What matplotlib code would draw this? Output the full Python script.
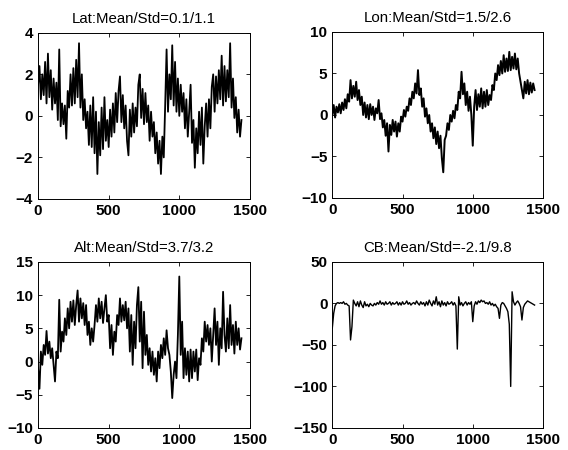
import numpy as np
import matplotlib.pyplot as plt

plt.rcParams['font.family'] = ['Liberation Sans', 'DejaVu Sans']

# samples, one value every 10 steps (0..1440)
step = 10

lat = [1.5, 2.4, 0.8, 2.0, 1.0, 2.6, 0.6, 3.0, 0.9, 2.2,
       0.3, 1.8, 0.6, 1.6, -0.2, 3.2, -0.5, 0.6, -0.4, 0.5,
       -1.1, 1.2, 0.4, 2.0, 0.5, 2.3, 0.6, 2.7, 0.9, 3.5,
       0.4, 2.0, -0.2, 0.8, -0.6, 0.2, -1.4, 0.5, -1.5, 0.9,
       -1.8, 0.2, -2.8, -0.3, -1.9, 0.4, -1.6, 0.9, -1.2, -0.2,
       -1.5, 0.3, -1.0, 0.6, -0.8, 1.1, -0.3, 1.2, 1.9, -0.3,
       1.0, -0.6, 0.5, -1.2, -1.9, 0.3, -1.0, 0.6, -0.8, 0.4,
       -0.5, 1.5, 2.0, -0.1, 1.3, -0.4, 1.1, -0.3, 0.5, -1.2,
       0.2, -1.0, -0.3, -1.8, -0.8, -2.3, -1.2, -2.8, -1.0, -2.0,
       0.5, 3.2, 0.2, 2.0, 0.8, 3.4, 0.5, 2.6, 0.2, 1.8,
       0.0, 1.5, 0.2, 1.1, -0.6, 0.8, -1.0, 0.2, 1.5, -1.3,
       -0.2, -2.5, -0.6, -1.8, 0.2, -1.4, 0.4, -2.3, -0.5, 0.6,
       -1.0, 0.8, -0.6, 1.4, 2.0, 0.2, 1.9, 0.6, 2.2, 0.8,
       2.9, 0.5, 2.4, 0.7, 2.2, 0.9, 3.5, 0.4, 1.8, -0.1,
       0.9, -0.8, 0.3, -1.0, -0.2]

lon = [0.0, 1.2, -0.3, 1.0, 0.3, 1.3, 0.2, 1.5, 0.6, 1.9,
       0.8, 2.5, 1.6, 4.2, 2.0, 3.5, 2.2, 4.0, 1.8, 3.0,
       1.2, 2.2, 0.0, 1.5, -0.3, 1.2, -0.5, 1.3, 0.0, 1.0,
       -0.6, 0.8, 0.2, 1.8, -0.5, 0.2, -1.5, -0.6, -2.5, -1.0,
       -4.4, -1.2, -2.4, -0.6, -2.0, -0.8, -2.6, -1.0, -2.0, -0.2,
       -0.8, 0.6, -0.2, 1.0, 0.5, 2.0, 1.2, 2.8, 2.0, 3.8,
       2.6, 5.4, 2.4, 3.2, 1.0, 2.0, -0.2, 0.8, -1.0, 0.0,
       -2.0, -1.0, -2.8, -1.5, -3.5, -2.0, -4.0, -2.5, -5.2, -6.9,
       -3.0, -2.5, -1.0, -1.8, 0.0, -0.8, 0.5, -0.4, 1.2, 0.6,
       2.8, 2.0, 5.2, 2.5, 3.8, 1.2, 2.8, 0.5, 2.2, 0.0,
       -3.7, 1.0, 3.0, 0.6, 2.5, 1.0, 3.2, 0.8, 2.8, 1.0,
       3.0, 1.2, 2.4, 1.8, 3.6, 3.0, 5.0, 4.2, 6.0, 4.8,
       6.5, 5.0, 7.2, 5.2, 6.8, 5.3, 7.6, 5.4, 7.0, 5.6,
       7.4, 5.5, 6.8, 5.0, 4.0, 3.0, 2.0, 4.0, 2.6, 4.2,
       2.5, 3.9, 2.7, 3.8, 3.0]

alt = [-1.0, -4.1, 1.5, -0.5, 2.5, 1.0, 4.6, 1.2, 3.0, 0.5,
       2.0, -0.5, -3.0, 1.5, 0.5, 9.3, 1.5, 4.5, 3.0, 6.5,
       4.0, 8.0, 5.0, 9.0, 6.0, 9.2, 5.5, 8.5, 10.7, 6.0,
       9.5, 6.5, 8.8, 5.5, 8.5, 4.0, 6.0, 2.5, 5.0, 3.0,
       5.5, 8.5, 6.0, 9.5, 6.5, 9.0, 5.8, 8.0, 10.0, 6.0,
       7.0, 2.0, 5.5, 1.0, 4.5, 3.0, 7.0, 5.5, 9.5, 6.0,
       8.5, 6.2, 9.0, 5.0, 8.0, 1.5, 7.0, -0.5, 6.0, 2.0,
       8.5, 11.2, 3.0, 9.0, -1.0, 7.5, 1.0, 4.0, -0.5, 2.0,
       -1.5, 1.5, -2.0, 0.5, -3.0, 1.5, -1.0, 2.5, 0.5, 3.5,
       1.0, 4.7, 2.0, 1.0, -1.5, -5.5, -2.0, 0.0, -2.5, 4.0,
       12.8, 1.0, 6.0, -2.5, 2.0, -2.0, 1.5, -3.0, 1.8, -2.5,
       1.5, -1.5, 1.8, -2.8, 0.5, -0.5, 3.5, 1.5, 6.0, 3.0,
       5.5, 2.5, 5.0, 0.0, 4.0, 8.0, 2.5, 6.0, -0.5, 5.0,
       2.0, 10.5, 4.0, 1.5, 6.5, 2.0, 8.5, 2.5, 5.5, 1.2,
       6.0, 2.5, 5.0, 1.8, 3.5]

cb = [-30, -12, -3, 0, 1, 0, 1, 0, 2, -1,
      0, -2, -3, -44, -28, 4, 0, -3, 2, -4,
      3, -2, -5, 2, -3, -1, -4, 0, -2, -3,
      0, -2, 1, -1, 3, -1, 1, -2, 2, -1,
      0, 2, -2, 1, -1, 0, 2, -2, 1, -2,
      2, -1, 0, 3, -1, 1, -2, 0, 1, -1,
      3, 0, -2, 2, -1, 1, -3, 2, -2, 4,
      0, -3, 3, -1, 8, -2, 2, -4, 3, -2,
      1, -3, 2, -1, 0, 2, -2, 1, -3, -55,
      8, -2, 1, -3, 0, 2, -2, 1, -1, 2,
      -22, -3, 2, -1, 3, 1, 4, 2, 3, 0,
      1, -1, 2, -2, 0, -3, -1, -4, -6, -18,
      -2, 1, 0, -3, -6, -10, -25, -100, 14, 2,
      -2, 1, 3, 0, -4, -20, -5, -1, 1, 3,
      2, 1, 0, -1, -2]

titles = ['Lat:Mean/Std=0.1/1.1', 'Lon:Mean/Std=1.5/2.6',
          'Alt:Mean/Std=3.7/3.2', 'CB:Mean/Std=-2.1/9.8']
yticks = [[-4, -2, 0, 2, 4], [-10, -5, 0, 5, 10],
          [-10, -5, 0, 5, 10, 15], [-150, -100, -50, 0, 50]]
xticks = [0, 500, 1000, 1500]

fig = plt.figure(figsize=(5.68, 4.5), dpi=100)
boxes = [[0.067, 0.558, 0.373, 0.369], [0.585, 0.56, 0.371, 0.369],
         [0.067, 0.049, 0.373, 0.369], [0.585, 0.049, 0.371, 0.369]]
widths = [1.3, 1.4, 1.3, 1.0]

for series, title, yt, box, lw in zip([lat, lon, alt, cb], titles, yticks,
                                      boxes, widths):
    ax = fig.add_axes(box)
    n = np.arange(len(series)) * step
    ax.plot(n, series, color='black', linewidth=lw)
    ax.set_xlim(0, 1500)
    ax.set_ylim(yt[0], yt[-1])
    ax.set_xticks(xticks)
    ax.set_yticks(yt)
    ax.tick_params(direction='in', top=True, right=True, length=3,
                   labelsize=11, width=0.6)
    for lab in ax.get_xticklabels() + ax.get_yticklabels():
        lab.set_fontweight('bold')
    for sp in ax.spines.values():
        sp.set_linewidth(0.7)
    ax.set_title(title, fontsize=10.8, pad=7)

fig.savefig('out.png', dpi=100)
